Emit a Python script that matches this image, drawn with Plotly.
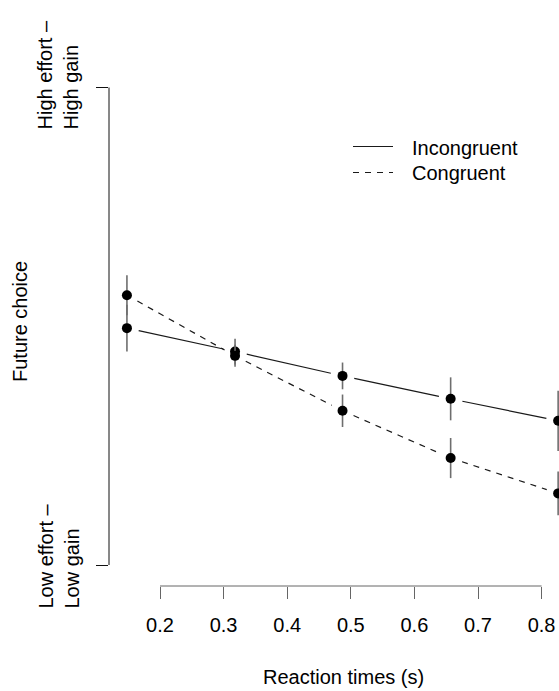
import math
import plotly.graph_objects as go

# Mean future choice by reaction-time bin, with error bars
reaction_time = [0.148, 0.318, 0.487, 0.657, 0.826]
incongruent = [0.496, 0.447, 0.396, 0.348, 0.302]
incongruent_err = [0.049, 0.027, 0.028, 0.045, 0.063]
congruent = [0.565, 0.438, 0.323, 0.224, 0.150]
congruent_err = [0.042, 0.023, 0.034, 0.042, 0.046]
x_ticks = [0.2, 0.3, 0.4, 0.5, 0.6, 0.7, 0.8]
y_ends = [0, 1]

# Figure geometry (pixels)
W, H = 559, 691
ML, MR, MT, MB = 109, 0, 40, 105
PW, PH = W - ML - MR, H - MT - MB
SX = 636.0    # px per x unit
SY = 477.5    # px per y unit
X_AT_LEFT = 0.2 - 51 / SX
Y_AT_BOTTOM = -21 / SY
x_range = [X_AT_LEFT, X_AT_LEFT + PW / SX]
y_range = [Y_AT_BOTTOM, Y_AT_BOTTOM + PH / SY]


def px_x(px):
    return (px - ML) / PW


def px_y(py):
    return (H - MB - py) / PH


def gapped(xs, ys, gap=12.0):
    """Segments between consecutive points, shortened near each point."""
    gx, gy = [], []
    for i in range(len(xs) - 1):
        dx, dy = xs[i + 1] - xs[i], ys[i + 1] - ys[i]
        length = math.hypot(dx * SX, dy * SY)
        f = gap / length
        gx += [xs[i] + f * dx, xs[i + 1] - f * dx, None]
        gy += [ys[i] + f * dy, ys[i + 1] - f * dy, None]
    return gx, gy


FONT = "Arial, 'Liberation Sans', sans-serif"
fig = go.Figure()

for ys, errs, dash in [(incongruent, incongruent_err, "solid"),
                       (congruent, congruent_err, "6px,6px")]:
    lx, ly = gapped(reaction_time, ys)
    fig.add_trace(go.Scatter(
        x=lx, y=ly, mode="lines",
        line=dict(color="#1a1a1a", width=1.2, dash=dash),
        hoverinfo="skip", showlegend=False))
    fig.add_trace(go.Scatter(
        x=reaction_time, y=ys, mode="markers",
        marker=dict(color="black", size=10),
        error_y=dict(type="data", array=errs, visible=True,
                     color="#6e6e6e", thickness=1.6, width=0),
        showlegend=False))

shapes = [
    # x axis line spanning the tick range
    dict(type="line", xref="x", yref="paper", x0=x_ticks[0], x1=x_ticks[-1],
         y0=0, y1=0, line=dict(color="#666666", width=1)),
    # y axis line spanning the two ends of the scale
    dict(type="line", xref="paper", yref="y", x0=0, x1=0,
         y0=y_ends[0], y1=y_ends[1], line=dict(color="#111111", width=1)),
    # legend keys
    dict(type="line", xref="paper", yref="paper", x0=px_x(353), x1=px_x(393),
         y0=px_y(146.5), y1=px_y(146.5), line=dict(color="#1a1a1a", width=1.2)),
    dict(type="line", xref="paper", yref="paper", x0=px_x(353), x1=px_x(393),
         y0=px_y(172.5), y1=px_y(172.5),
         line=dict(color="#1a1a1a", width=1.2, dash="6px,6px")),
]

annotations = [
    dict(text="Incongruent", x=px_x(410), y=px_y(148), xanchor="left",
         yanchor="middle"),
    dict(text="Congruent", x=px_x(410), y=px_y(173), xanchor="left",
         yanchor="middle"),
    dict(text="Reaction times (s)", x=px_x(343), y=px_y(677),
         xanchor="center", yanchor="middle"),
    dict(text="Future choice", x=px_x(20), y=px_y(322), textangle=-90,
         xanchor="center", yanchor="middle"),
    dict(text="High effort \u2013<br>High gain", x=px_x(58), y=px_y(132),
         textangle=-90, align="left", xanchor="center", yanchor="bottom"),
    dict(text="Low effort \u2013<br>Low gain", x=px_x(58), y=px_y(611),
         textangle=-90, align="left", xanchor="center", yanchor="bottom"),
]
for a in annotations:
    a.update(xref="paper", yref="paper", showarrow=False,
             font=dict(family=FONT, size=20, color="black"))

fig.update_layout(
    width=W, height=H,
    margin=dict(l=ML, r=MR, t=MT, b=MB, pad=0),
    paper_bgcolor="white", plot_bgcolor="white",
    font=dict(family=FONT, size=20, color="black"),
    shapes=shapes, annotations=annotations,
    xaxis=dict(range=x_range, tickvals=x_ticks,
               ticktext=[f"{v:.1f}" for v in x_ticks],
               ticks="outside", ticklen=12, tickwidth=1, tickcolor="#666666",
               ticklabelstandoff=9,
               showline=False, showgrid=False, zeroline=False,
               tickfont=dict(family=FONT, size=20, color="black")),
    yaxis=dict(range=y_range, tickvals=y_ends, ticks="outside", ticklen=12,
               tickwidth=1, tickcolor="#111111", showticklabels=False,
               showline=False, showgrid=False, zeroline=False),
)

fig.write_html("out.html")
